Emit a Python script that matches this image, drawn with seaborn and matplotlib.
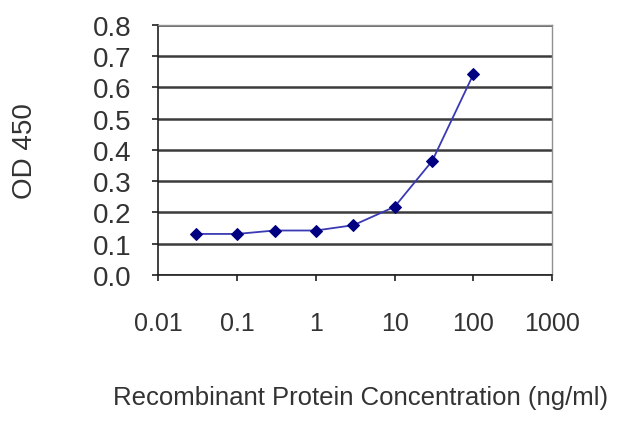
import matplotlib
matplotlib.use("Agg")
import matplotlib.pyplot as plt
import matplotlib.ticker as mticker
import seaborn as sns
import pandas as pd

# data
conc = [0.03, 0.1, 0.3, 1, 3, 10, 30, 100]
od450 = [0.131, 0.131, 0.142, 0.142, 0.159, 0.218, 0.365, 0.643]
x_ticks = [0.01, 0.1, 1, 10, 100, 1000]
x_labels = ["0.01", "0.1", "1", "10", "100", "1000"]
y_ticks = [0.0, 0.1, 0.2, 0.3, 0.4, 0.5, 0.6, 0.7, 0.8]

df = pd.DataFrame({"conc": conc, "od": od450})

sns.set_style("white")
plt.rcParams["font.family"] = ["Liberation Sans", "DejaVu Sans"]

fig = plt.figure(figsize=(6.4, 4.27), dpi=100)
ax = fig.add_axes([0.247, 0.354, 0.616, 0.585])

sns.lineplot(data=df, x="conc", y="od", ax=ax, color="#3a3ab4", linewidth=1.3,
             marker="D", markersize=6, markerfacecolor="#000080",
             markeredgecolor="#000080")

ax.set_xscale("log")
ax.set_xlim(0.01, 1000)
ax.set_ylim(0, 0.8)
ax.set_xticks(x_ticks)
ax.set_xticklabels(x_labels)
ax.xaxis.set_minor_locator(mticker.NullLocator())
ax.set_yticks(y_ticks)
ax.set_yticklabels([f"{v:.1f}" for v in y_ticks])

ax.yaxis.grid(True, color="#3c3c3c", linewidth=1.8)
ax.set_axisbelow(True)
for side in ["left", "bottom"]:
    ax.spines[side].set_color("#202020")
    ax.spines[side].set_linewidth(1.2)
for side in ["top", "right"]:
    ax.spines[side].set_color("#909090")
    ax.spines[side].set_linewidth(1.0)

ax.tick_params(axis="y", left=True, length=4, width=1.2, color="#202020",
               labelsize=20, pad=15, labelcolor="#333333")
ax.tick_params(axis="x", bottom=True, length=4, width=1.2, color="#202020",
               labelsize=18, pad=22, labelcolor="#333333")

ax.set_xlabel("Recombinant Protein Concentration (ng/ml)", fontsize=18.5,
              color="#333333", va="center")
ax.xaxis.set_label_coords(0.513, -0.488)
ax.set_ylabel("OD 450", fontsize=20, color="#333333", va="center")
ax.yaxis.set_label_coords(-0.338, 0.5)

fig.savefig("out.png", dpi=100)
